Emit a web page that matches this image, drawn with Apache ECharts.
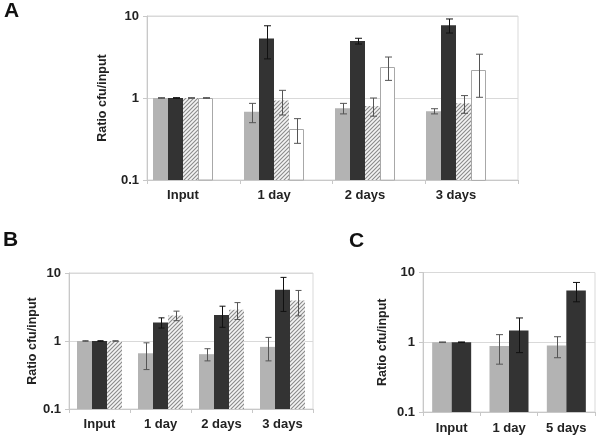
<!DOCTYPE html>
<html><head><meta charset="utf-8">
<script src="https://cdn.jsdelivr.net/npm/echarts@6/dist/echarts.min.js"></script>
<style>html,body{margin:0;padding:0;background:#fff}#c{width:600px;height:436px}</style>
</head><body><div id="c"></div>
<script>
const FONT = "'Liberation Sans', Arial, sans-serif";
const yTickLabels = ['0.1', '1', '10'];
const yTitle = 'Ratio cfu/input';

// Panel A
const catsA = ['Input', '1 day', '2 days', '3 days'];
const aGray = [1, 0.68, 0.75, 0.69];
const aGrayErr = [0.01, 0.18, 0.11, 0.05];
const aDark = [1, 5.3, 4.95, 7.7];
const aDarkErr = [0.01, 2.3, 0.4, 1.5];
const aHatch = [1, 0.93, 0.8, 0.86];
const aHatchErr = [0.01, 0.31, 0.2, 0.21];
const aWhite = [1, 0.42, 2.4, 2.22];
const aWhiteErr = [0.01, 0.14, 0.76, 1.2];

// Panel B
const catsB = ['Input', '1 day', '2 days', '3 days'];
const bGray = [1, 0.66, 0.64, 0.82];
const bGrayErr = [0.01, 0.28, 0.13, 0.31];
const bDark = [1, 1.87, 2.42, 5.67];
const bDarkErr = [0.01, 0.32, 0.83, 2.95];
const bHatch = [1, 2.37, 2.87, 3.94];
const bHatchErr = [0.01, 0.38, 0.8, 1.6];

// Panel C
const catsC = ['Input', '1 day', '5 days'];
const cGray = [1, 0.885, 0.9];
const cGrayErr = [0.01, 0.4, 0.3];
const cDark = [1, 1.47, 5.5];
const cDarkErr = [0.01, 0.76, 1.7];

// diagonal hatch pattern "////"
const hatchCanvas = document.createElement('canvas');
hatchCanvas.width = 4; hatchCanvas.height = 4;
(function () {
  const g = hatchCanvas.getContext('2d');
  g.fillStyle = '#f4f4f4'; g.fillRect(0, 0, 4, 4);
  g.strokeStyle = '#8a8a8a'; g.lineWidth = 1.1;
  g.beginPath();
  g.moveTo(-1, 5); g.lineTo(5, -1);
  g.moveTo(-1, 1); g.lineTo(1, -1);
  g.moveTo(3, 5); g.lineTo(5, 3);
  g.stroke();
})();

const STY = {
  gray: {fill: '#b3b3b3'},
  dark: {fill: '#333333'},
  hatch: {fill: {image: hatchCanvas, repeat: 'repeat'}},
  white: {fill: '#ffffff', stroke: '#a8a8a8', lineWidth: 1}
};

const grids = [], xAxes = [], yAxes = [], series = [];

function frameY(gi, nameGap) {
  return {
    type: 'log', logBase: 10, min: 0.1, max: 10, gridIndex: gi,
    axisLine: {show: true, lineStyle: {color: '#c8c8c8'}},
    axisTick: {show: true, length: 4, lineStyle: {color: '#c8c8c8'}},
    axisLabel: {show: true, color: '#222', fontFamily: FONT, fontWeight: 'bold', fontSize: 13, margin: 8,
      formatter: v => yTickLabels[Math.round(Math.log10(v)) + 1]},
    splitLine: {show: true, lineStyle: {color: '#d9d9d9'}},
    minorTick: {show: false},
    name: yTitle, nameLocation: 'middle', nameRotate: 90, nameGap: nameGap,
    nameTextStyle: {color: '#222', fontFamily: FONT, fontWeight: 'bold', fontSize: 12.5}
  };
}

function addPanel(cfg) {
  const fi = grids.length;
  grids.push({left: cfg.fLeft, top: cfg.top, width: cfg.fWidth, height: cfg.height, show: true, borderColor: '#d9d9d9', borderWidth: 1});
  xAxes.push({type: 'category', data: cfg.cats, gridIndex: fi,
    axisLine: {show: true, lineStyle: {color: '#c8c8c8'}},
    axisTick: {show: true, length: 4, lineStyle: {color: '#c8c8c8'}},
    axisLabel: {show: false}, splitLine: {show: false}});
  yAxes.push(frameY(fi, cfg.nameGap));
  let bi = fi;
  const labelStyle = {color: '#222', fontFamily: FONT, fontWeight: 'bold', fontSize: 13, margin: cfg.labelMargin};
  if (cfg.bLeft !== cfg.fLeft || cfg.bWidth !== cfg.fWidth) {
    bi = grids.length;
    grids.push({left: cfg.bLeft, top: cfg.top, width: cfg.bWidth, height: cfg.height});
    xAxes.push({type: 'category', data: cfg.cats, gridIndex: bi,
      axisLine: {show: false}, axisTick: {show: false}, axisLabel: labelStyle, splitLine: {show: false}});
    yAxes.push({type: 'log', logBase: 10, min: 0.1, max: 10, gridIndex: bi, show: false});
  } else {
    xAxes[fi].axisLabel = labelStyle;
  }
  const n = cfg.groups.length;
  const bw = cfg.barWidth;
  cfg.groups.forEach((g, i) => {
    series.push({type: 'custom', xAxisIndex: bi, yAxisIndex: bi, z: 2, silent: true,
      data: g.vals.map((v, k) => [k, v]),
      encode: {x: 0, y: 1},
      renderItem: (params, api) => {
        const x = api.value(0), v = api.value(1);
        const top = api.coord([x, v]);
        const base = api.coord([x, 0.1]);
        const x0 = top[0] + (i - (n - 1) / 2) * bw - bw / 2;
        const isW = g.style === 'white';
        return {type: 'rect',
          shape: {x: isW ? Math.round(x0) + 0.5 : x0, y: isW ? Math.round(top[1]) + 0.5 : top[1],
                  width: isW ? Math.round(bw) - 1 : bw, height: base[1] - top[1] - (isW ? 0.5 : 0)},
          style: Object.assign({}, STY[g.style])};
      }});
  });
  cfg.groups.forEach((g, i) => {
    series.push({type: 'custom', xAxisIndex: bi, yAxisIndex: bi, z: 5, silent: true,
      data: g.vals.map((v, k) => [k, v, g.errs[k]]),
      encode: {x: 0, y: 1},
      renderItem: (params, api) => {
        const x = api.value(0), v = api.value(1), e = api.value(2);
        const hi = api.coord([x, v + e]);
        const lo = api.coord([x, Math.max(v - e, 0.101)]);
        const cx = Math.round(hi[0] + (i - (n - 1) / 2) * bw) + 0.5;
        const hw = cfg.cap / 2;
        const st = {stroke: g.style === 'dark' ? '#111' : '#555', lineWidth: 1};
        return {type: 'group', children: [
          {type: 'line', shape: {x1: cx, y1: hi[1], x2: cx, y2: lo[1]}, style: st},
          {type: 'line', shape: {x1: cx - hw, y1: hi[1], x2: cx + hw, y2: hi[1]}, style: st},
          {type: 'line', shape: {x1: cx - hw, y1: lo[1], x2: cx + hw, y2: lo[1]}, style: st}
        ]};
      }});
  });
}

addPanel({cats: catsA, fLeft: 147, fWidth: 371, bLeft: 137.5, bWidth: 364, top: 16, height: 164,
  nameGap: 38, labelMargin: 9, barWidth: 15, cap: 7,
  groups: [
    {vals: aGray, errs: aGrayErr, style: 'gray'},
    {vals: aDark, errs: aDarkErr, style: 'dark'},
    {vals: aHatch, errs: aHatchErr, style: 'hatch'},
    {vals: aWhite, errs: aWhiteErr, style: 'white'}
  ]});

addPanel({cats: catsB, fLeft: 69, fWidth: 244, bLeft: 69, bWidth: 244, top: 273, height: 136,
  nameGap: 30, labelMargin: 9, barWidth: 15, cap: 6,
  groups: [
    {vals: bGray, errs: bGrayErr, style: 'gray'},
    {vals: bDark, errs: bDarkErr, style: 'dark'},
    {vals: bHatch, errs: bHatchErr, style: 'hatch'}
  ]});

addPanel({cats: catsC, fLeft: 423, fWidth: 172, bLeft: 423, bWidth: 172, top: 272.5, height: 139.5,
  nameGap: 34, labelMargin: 10, barWidth: 19.5, cap: 7,
  groups: [
    {vals: cGray, errs: cGrayErr, style: 'gray'},
    {vals: cDark, errs: cDarkErr, style: 'dark'}
  ]});

const chart = echarts.init(document.getElementById('c'), null, {renderer: 'canvas'});
chart.setOption({
  animation: false,
  backgroundColor: '#ffffff',
  grid: grids, xAxis: xAxes, yAxis: yAxes, series: series,
  graphic: [
    {type: 'text', left: 4, top: 1, style: {text: 'A', font: 'bold 21px ' + FONT, fill: '#111'}},
    {type: 'text', left: 3, top: 230, style: {text: 'B', font: 'bold 21px ' + FONT, fill: '#111'}},
    {type: 'text', left: 349, top: 231, style: {text: 'C', font: 'bold 21px ' + FONT, fill: '#111'}}
  ]
});
</script></body></html>
